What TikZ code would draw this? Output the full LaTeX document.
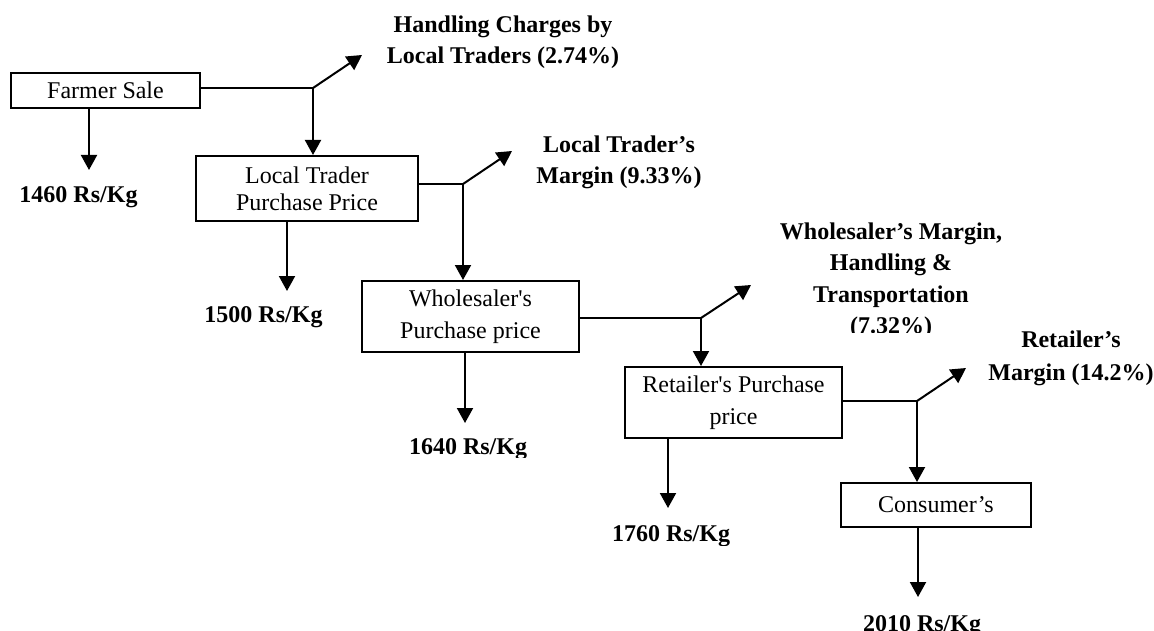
\documentclass[tikz,border=0pt]{standalone}
\usepackage{fontspec}
\setmainfont{Liberation Serif}[Ligatures=TeXOff]
\usetikzlibrary{arrows.meta}
\begin{document}
\begin{tikzpicture}[x=1pt,y=-1pt,
  line width=2pt,
  stage/.style={draw, rectangle, inner sep=0pt, align=center,
    font=\fontsize{24}{32}\selectfont},
  price/.style={anchor=base, inner sep=0pt,
    font=\bfseries\fontsize{24}{31}\selectfont},
  share/.style={anchor=base, inner sep=0pt, align=center,
    font=\bfseries\fontsize{24}{31}\selectfont},
  flow/.style={-{Triangle[length=15pt,width=16pt]}},
]
\useasboundingbox (0,0) rectangle (1154,631);

% price stages along the chain
\node[stage, minimum width=189pt, minimum height=35pt] (farmer) at (105.5,90.5) {Farmer Sale};
\node[stage, minimum width=222pt, minimum height=65pt,
      font=\fontsize{24}{27}\selectfont] (trader) at (307,188.5) {Local Trader\\Purchase Price};
\node[stage, minimum width=217pt, minimum height=71pt] (whole) at (470.5,316.5) {Wholesaler's\\Purchase price};
\node[stage, minimum width=217pt, minimum height=71pt] (retail) at (733.5,402.5) {Retailer's Purchase\\price};
\node[stage, minimum width=190pt, minimum height=44pt] (consumer) at (936,505) {Consumer’s};

% branch points and arrow ends
\coordinate (j1) at (313,88);
\coordinate (j2) at (463,184);
\coordinate (j3) at (701,318);
\coordinate (j4) at (917,401);
\coordinate (t1) at (362,55);
\coordinate (t2) at (512,151);
\coordinate (t3) at (751,285);
\coordinate (t4) at (966,368);
\coordinate (d1) at (89,170);
\coordinate (d2) at (287,291);
\coordinate (d3) at (465,423);
\coordinate (d4) at (668,508);
\coordinate (d5) at (918,597);

% margin labels (placed by the baseline of their last line)
\node[share] (hc) at (503,64) {Handling Charges by\\Local Traders (2.74\%)};
\node[share] (ltm) at (619,184) {Local Trader’s\\Margin (9.33\%)};
\begin{scope}
  \clip (760,200) rectangle (1030,332);
  \node[share, font=\bfseries\fontsize{24}{31.5}\selectfont] (wm) at (891,333.5)
    {Wholesaler’s Margin,\\Handling \&\\Transportation\\(7.32\%)};
\end{scope}
\node[share, font=\bfseries\fontsize{24}{33}\selectfont] (rm) at (1071,380) {Retailer’s\\Margin (14.2\%)};

% prices per kilogram
\node[price] (p1) at (78.5,203) {1460 Rs/Kg};
\node[price] (p2) at (263.5,322) {1500 Rs/Kg};
\begin{scope}
  \clip (380,420) rectangle (560,457);
  \node[price] (p3) at (468,454) {1640 Rs/Kg};
\end{scope}
\begin{scope}
  \clip (580,515) rectangle (760,545);
  \node[price] (p4) at (671,541) {1760 Rs/Kg};
\end{scope}
\node[price] (p5) at (922,631) {2010 Rs/Kg};

% connectors
\draw (farmer.east |- j1) -- (j1);
\draw[flow] (j1) -- (t1);
\draw[flow] (j1) -- (trader.north -| j1);
\draw[flow] (farmer.south -| d1) -- (d1);

\draw (trader.east |- j2) -- (j2);
\draw[flow] (j2) -- (t2);
\draw[flow] (j2) -- (whole.north -| j2);
\draw[flow] (trader.south -| d2) -- (d2);

\draw (whole.east |- j3) -- (j3);
\draw[flow] (j3) -- (t3);
\draw[flow] (j3) -- (retail.north -| j3);
\draw[flow] (whole.south -| d3) -- (d3);

\draw (retail.east |- j4) -- (j4);
\draw[flow] (j4) -- (t4);
\draw[flow] (j4) -- (consumer.north -| j4);
\draw[flow] (retail.south -| d4) -- (d4);

\draw[flow] (consumer.south -| d5) -- (d5);
\end{tikzpicture}
\end{document}
